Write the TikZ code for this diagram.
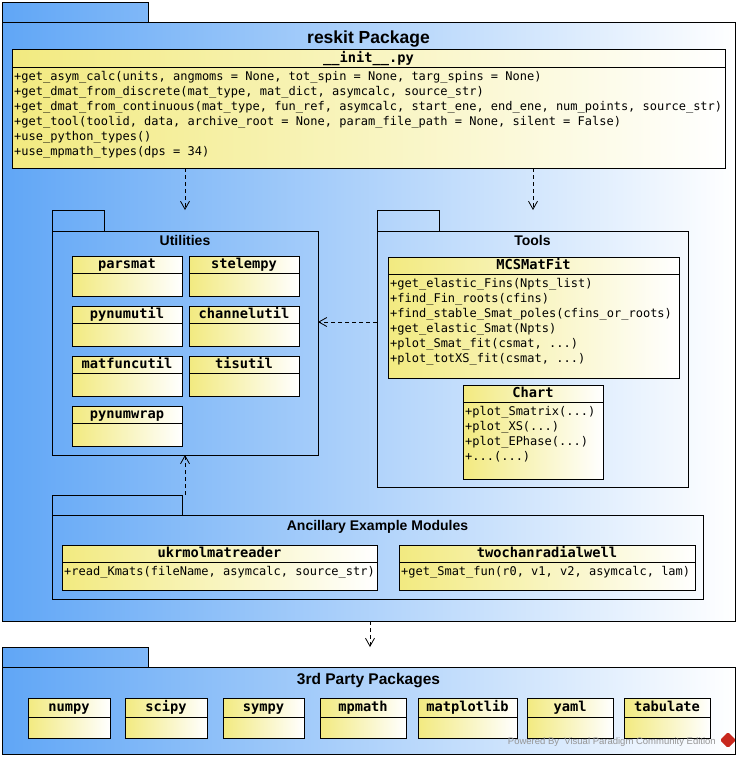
\documentclass[tikz,border=0pt]{standalone}
\usepackage{fontspec}
\setmainfont{Liberation Sans}
\setmonofont{DejaVu Sans Mono}
\usetikzlibrary{arrows.meta, calc, positioning}
\definecolor{pkgblue}{RGB}{96,166,246}
\definecolor{clsyellow}{RGB}{242,234,128}
\definecolor{vpgray}{RGB}{150,150,150}
\definecolor{vpred}{RGB}{200,40,30}
\newcommand{\tridot}{...}

\begin{document}
\begin{tikzpicture}[
            x=1pt, y=-1pt,
            pkgbody/.style={draw, line width=0.8pt, inner sep=0pt, outer sep=0pt, anchor=north west},
            pkgtab/.style={draw, line width=0.8pt, inner sep=0pt, outer sep=0pt, anchor=south west, minimum height=20pt},
            pkgtitle/.style={font=\bfseries\fontsize{14}{16}\selectfont, inner sep=0pt, anchor=base},
            clsbox/.style={draw, line width=0.8pt, left color=clsyellow, right color=white, inner sep=0pt, outer sep=0pt, anchor=north west},
            clshead/.style={draw, line width=0.8pt, inner sep=0pt, outer sep=0pt, anchor=north, minimum height=17pt, text height=10.5pt, text depth=2.5pt, font=\ttfamily\bfseries\fontsize{13.7}{15}\selectfont},
            member/.style={inner sep=0pt, anchor=base west, font=\ttfamily\fontsize{12}{15}\selectfont},
            dep/.style={line width=0.8pt, dash pattern=on 4pt off 3pt, -{Straight Barb[length=8pt, width=9pt]}}
        ]
            \useasboundingbox (0,0) rectangle (741,758);

            % reskit package
            \node[pkgbody, left color=pkgblue, right color=white, minimum width=733pt, minimum height=599pt] (reskit) at (2,22) {};
            \node[pkgtab, left color=pkgblue, right color=pkgblue!80!white, minimum width=146pt] (reskittab) at (reskit.north west) {};
            \node[pkgtitle, font=\bfseries\fontsize{17.5}{19}\selectfont] (reskittitle) at ([yshift=-21pt]reskit.north) {reskit Package};

            \node[clsbox, minimum width=713pt, minimum height=119pt] (init) at (12,49) {};
            \node[clshead, minimum width=713pt, minimum height=18pt] (inithead) at (init.north) {\_\_init\_\_.py};
            \foreach \m [count=\i from 0] in {
                {+get\_asym\_calc(units, angmoms = None, tot\_spin = None, targ\_spins = None)},
                {+get\_dmat\_from\_discrete(mat\_type, mat\_dict, asymcalc, source\_str)},
                {+get\_dmat\_from\_continuous(mat\_type, fun\_ref, asymcalc, start\_ene, end\_ene, num\_points, source\_str)},
                {+get\_tool(toolid, data, archive\_root = None, param\_file\_path = None, silent = False)},
                {+use\_python\_types()},
                {+use\_mpmath\_types(dps = 34)}}
                \node[member] (init-m\i) at ($(inithead.south west)+(2,13.5+15*\i)$) {\m};

            % Utilities
            \node[pkgbody, minimum width=266pt, minimum height=224pt] (utilities) at (52,231) {};
            \node[pkgtab, minimum width=52pt, minimum height=21pt] (utilitiestab) at (utilities.north west) {};
            \node[pkgtitle] (utilitiestitle) at ([yshift=-14pt]utilities.north) {Utilities};
            \foreach \cname/\cx/\cy in {parsmat/72/256, stelempy/189/256, pynumutil/72/306, channelutil/189/306,
                                        matfuncutil/72/356, tisutil/189/356, pynumwrap/72/406} {
                \node[clsbox, minimum width=110pt, minimum height=40pt] (\cname) at (\cx,\cy) {};
                \node[clshead, minimum width=110pt] (\cname-head) at (\cname.north) {\cname};
            }

            % Tools
            \node[pkgbody, minimum width=311pt, minimum height=256pt] (tools) at (377,231) {};
            \node[pkgtab, minimum width=62pt, minimum height=21pt] (toolstab) at (tools.north west) {};
            \node[pkgtitle] (toolstitle) at ([yshift=-14pt]tools.north) {Tools};

            \node[clsbox, minimum width=291pt, minimum height=121pt] (mcsmatfit) at (388,257) {};
            \node[clshead, minimum width=291pt] (mcsmatfithead) at (mcsmatfit.north) {MCSMatFit};
            \foreach \m [count=\i from 0] in {
                {+get\_elastic\_Fins(Npts\_list)},
                {+find\_Fin\_roots(cfins)},
                {+find\_stable\_Smat\_poles(cfins\_or\_roots)},
                {+get\_elastic\_Smat(Npts)},
                {+plot\_Smat\_fit(csmat, \tridot)},
                {+plot\_totXS\_fit(csmat, \tridot)}}
                \node[member] (mcsmatfit-m\i) at ($(mcsmatfithead.south west)+(2,13.5+15*\i)$) {\m};

            \node[clsbox, minimum width=140pt, minimum height=94pt] (chart) at (463,385) {};
            \node[clshead, minimum width=140pt] (charthead) at (chart.north) {Chart};
            \foreach \m [count=\i from 0] in {
                {+plot\_Smatrix(\tridot)},
                {+plot\_XS(\tridot)},
                {+plot\_EPhase(\tridot)},
                {+\tridot(\tridot)}}
                \node[member] (chart-m\i) at ($(charthead.south west)+(2,13.5+15*\i)$) {\m};

            % Ancillary Example Modules
            \node[pkgbody, minimum width=651pt, minimum height=84pt] (ancillary) at (52,515) {};
            \node[pkgtab, minimum width=130pt] (ancillarytab) at (ancillary.north west) {};
            \node[pkgtitle] (ancillarytitle) at ([yshift=-15pt]ancillary.north) {Ancillary Example Modules};

            \node[clsbox, minimum width=315pt, minimum height=45pt] (ukrmol) at (62,545) {};
            \node[clshead, minimum width=315pt] (ukrmolhead) at (ukrmol.north) {ukrmolmatreader};
            \node[member] (ukrmol-m0) at ($(ukrmolhead.south west)+(2,13.5)$) {+read\_Kmats(fileName, asymcalc, source\_str)};

            \node[clsbox, minimum width=296pt, minimum height=45pt] (twochan) at (399,545) {};
            \node[clshead, minimum width=296pt] (twochanhead) at (twochan.north) {twochanradialwell};
            \node[member] (twochan-m0) at ($(twochanhead.south west)+(2,13.5)$) {+get\_Smat\_fun(r0, v1, v2, asymcalc, lam)};

            % 3rd Party Packages
            \node[pkgbody, left color=pkgblue, right color=white, minimum width=733pt, minimum height=87pt] (thirdparty) at (2,667) {};
            \node[pkgtab, left color=pkgblue, right color=pkgblue!80!white, minimum width=146pt] (thirdpartytab) at (thirdparty.north west) {};
            \node[pkgtitle, font=\bfseries\fontsize{15.5}{17}\selectfont] (thirdpartytitle) at ([yshift=-17pt]thirdparty.north) {3rd Party Packages};
            \foreach \cname/\cx/\cw in {numpy/28/82, scipy/125/82, sympy/223/81, mpmath/320/86,
                                        matplotlib/418/99, yaml/527/86, tabulate/624/86} {
                \node[clsbox, minimum width=\cw pt, minimum height=40pt] (\cname) at (\cx,698) {};
                \node[clshead, minimum width=\cw pt, minimum height=19pt] (\cname-head) at (\cname.north) {\cname};
            }

            \node[font=\fontsize{9.5}{11}\selectfont, text=vpgray, inner sep=0pt, anchor=base east] (vpmark) at (716,744) {Powered By\ \ Visual Paradigm Community Edition};
            \fill[vpred, rounded corners=1.5pt] (728,732) -- (736,740) -- (728,748) -- (720,740) -- cycle;

            % Connections
            \coordinate (utilin) at (185,210);
            \coordinate (toolsin) at (533,210);
            \coordinate (toolsout) at (377,322);
            \coordinate (ancout) at (185,495);
            \coordinate (thirdin) at (370,647);
            \draw[dep] (init.south -| utilin) -- (utilin);
            \draw[dep] (init.south -| toolsin) -- (toolsin);
            \draw[dep] (toolsout) -- (utilities.east |- toolsout);
            \draw[dep] (ancout) -- (utilities.south -| ancout);
            \draw[dep] (reskit.south -| thirdin) -- (thirdin);
        \end{tikzpicture}
\end{document}
